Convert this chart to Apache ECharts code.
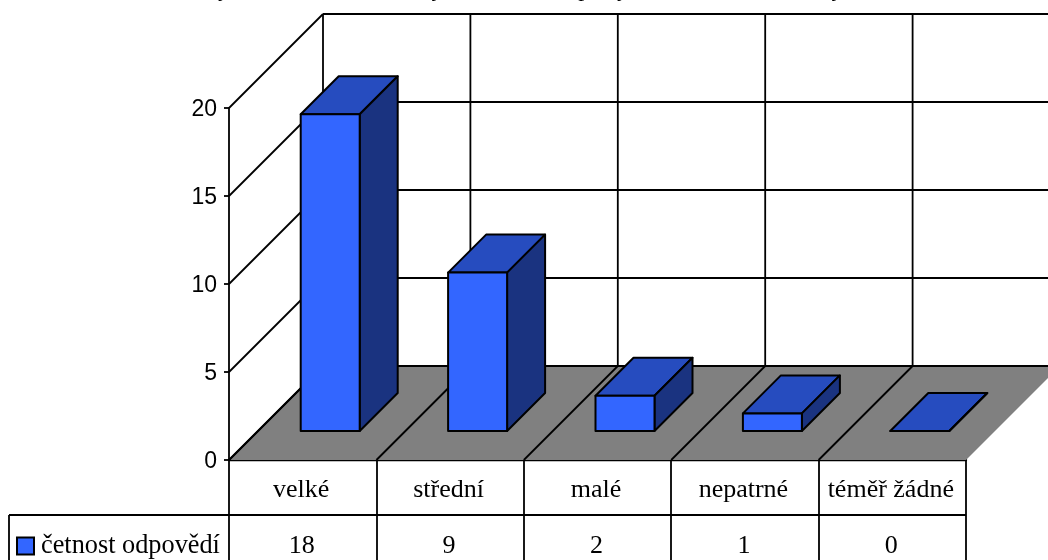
<!DOCTYPE html>
<html lang="cs">
<head>
<meta charset="utf-8">
<title>četnost odpovědí</title>
<style>
  html, body { margin: 0; padding: 0; background: #fff; }
  #chart { width: 1048px; height: 560px; }
</style>
<script src="https://cdn.jsdelivr.net/npm/echarts@6/dist/echarts.min.js"></script>
</head>
<body>
<div id="chart"></div>
<script>
const categories = ['velké', 'střední', 'malé', 'nepatrné', 'téměř žádné'];
const responses = [18, 9, 2, 1, 0];
const seriesName = 'četnost odpovědí';
const yTicks = [0, 5, 10, 15, 20];
const yMax = 20;

// Only the descenders of the heading fall inside the canvas.
const headingGlyphs = ['j', 'y', 'p', 'j', 'y'];
const headingGlyphX = [221, 434, 580, 620, 834];

// Oblique projection of the 3D box, in pixels.
const DEPTH = 94;        // floor depth
const BAR_DEPTH = 38;
const BAR_OFFSET_X = 27.5;
const BAR_OFFSET_Y = 29;
const BAR_WIDTH = 59;
const LINE = '#000';
const RULE_WIDTH = 1.8;
const COLORS = { front: '#3366ff', top: '#264cbf', side: '#1a3380', floor: '#808080' };
const SERIF = '"Liberation Serif", "Times New Roman", serif';
const SANS = '"Liberation Sans", Arial, sans-serif';
const TABLE_BOTTOM_ROW_Y = 515;
const TABLE_LEFT = 9;
const TABLE_BOTTOM = 562;

const seg = (x1, y1, x2, y2, lineWidth) => ({
  type: 'line',
  shape: { x1, y1, x2, y2 },
  style: { stroke: LINE, lineWidth: lineWidth || RULE_WIDTH }
});
const poly = (points, fill, stroke) => ({
  type: 'polygon',
  shape: { points },
  style: { fill, stroke: stroke === undefined ? LINE : stroke, lineWidth: 2, lineJoin: 'round' }
});

// Floor, back wall, side wall and the grid drawn on them.
function renderFrame(params, api) {
  const origin = api.coord([0, 0]);
  const band = api.size([1, 0])[0];
  const left = origin[0] - band / 2;
  const base = origin[1];
  const n = categories.length;
  const right = left + band * n;
  const children = [];

  children.push(poly([
    [left, base], [right, base], [right + DEPTH, base - DEPTH], [left + DEPTH, base - DEPTH]
  ], COLORS.floor, 'none'));

  for (const t of yTicks) {
    const y = api.coord([0, t])[1];
    children.push(seg(left, y, left + DEPTH, y - DEPTH));
    children.push(seg(left + DEPTH, y - DEPTH, right + DEPTH, y - DEPTH));
  }
  const wallTop = api.coord([0, yMax])[1] - DEPTH;
  for (let i = 0; i <= n; i++) {
    const x = left + band * i;
    children.push(seg(x + DEPTH, base - DEPTH, x + DEPTH, wallTop));
    if (i < n) children.push(seg(x, base, x + DEPTH, base - DEPTH));
  }
  // Data table rules below the axis.
  children.push(seg(TABLE_LEFT, TABLE_BOTTOM_ROW_Y, right, TABLE_BOTTOM_ROW_Y));
  children.push(seg(TABLE_LEFT, TABLE_BOTTOM_ROW_Y, TABLE_LEFT, TABLE_BOTTOM));
  return { type: 'group', children };
}

// One 3D column: front face, top face and right side.
function renderColumn(params, api) {
  const idx = api.value(0);
  const val = api.value(1);
  const foot = api.coord([idx, 0]);
  const head = api.coord([idx, val]);
  const x0 = foot[0] + BAR_OFFSET_X - BAR_WIDTH / 2;
  const x1 = x0 + BAR_WIDTH;
  const yb = foot[1] - BAR_OFFSET_Y;
  const yt = head[1] - BAR_OFFSET_Y;
  const d = BAR_DEPTH;
  return {
    type: 'group',
    children: [
      poly([[x0, yt], [x1, yt], [x1 + d, yt - d], [x0 + d, yt - d]], COLORS.top),
      poly([[x1, yb], [x1 + d, yb - d], [x1 + d, yt - d], [x1, yt]], COLORS.side),
      poly([[x0, yb], [x1, yb], [x1, yt], [x0, yt]], COLORS.front)
    ]
  };
}

// Value row of the data table.
function renderValueCell(params, api) {
  const foot = api.coord([api.value(0), 0]);
  return {
    type: 'text',
    style: {
      x: foot[0] - 1,
      y: 546,
      text: String(api.value(1)),
      fill: '#000',
      font: '26px ' + SERIF,
      align: 'center',
      verticalAlign: 'middle'
    }
  };
}

const chart = echarts.init(document.getElementById('chart'), null, { renderer: 'canvas' });
chart.setOption({
  animation: false,
  backgroundColor: '#fff',
  grid: { left: 229, top: 108, width: 737, height: 352, containLabel: false },
  legend: {
    left: 16,
    top: 533,
    data: [seriesName],
    icon: 'rect',
    itemWidth: 17,
    itemHeight: 17,
    itemGap: 0,
    padding: 0,
    selectedMode: false,
    itemStyle: { borderColor: LINE, borderWidth: 2 },
    textStyle: { fontFamily: SERIF, fontSize: 26.3, color: '#000', padding: [0, 0, 0, 2] }
  },
  xAxis: {
    type: 'category',
    data: categories,
    axisLine: { lineStyle: { color: LINE, width: 2.4 } },
    axisTick: { show: true, length: 102, lineStyle: { color: LINE, width: RULE_WIDTH } },
    axisLabel: { color: '#000', fontFamily: SERIF, fontSize: 26, margin: 17, interval: 0, padding: [0, 3, 0, 0] }
  },
  yAxis: {
    type: 'value',
    min: 0,
    max: yMax,
    interval: 5,
    splitLine: { show: false },
    axisLine: { show: true, lineStyle: { color: LINE, width: RULE_WIDTH } },
    axisTick: { show: true, length: 5, lineStyle: { color: LINE, width: RULE_WIDTH } },
    axisLabel: { color: '#000', fontFamily: SANS, fontSize: 23, margin: 12, verticalAlign: 'top', lineHeight: 3 }
  },
  graphic: headingGlyphs.map((ch, i) => ({
    type: 'text',
    x: headingGlyphX[i],
    y: -22,
    style: { text: ch, fill: '#000', font: 'italic 24px ' + SERIF }
  })),
  series: [
    {
      type: 'custom',
      name: 'frame',
      z: 1,
      clip: false,
      silent: true,
      renderItem: renderFrame,
      data: [[0, 0]],
      encode: { x: 0, y: 1 }
    },
    {
      type: 'custom',
      name: seriesName,
      z: 3,
      clip: false,
      silent: true,
      itemStyle: { color: COLORS.front, borderColor: LINE, borderWidth: 2 },
      renderItem: renderColumn,
      data: responses.map((v, i) => [i, v]),
      encode: { x: 0, y: 1 }
    },
    {
      type: 'custom',
      name: 'table',
      z: 4,
      clip: false,
      silent: true,
      renderItem: renderValueCell,
      data: responses.map((v, i) => [i, v]),
      encode: { x: 0, y: 1 }
    }
  ]
});
</script>
</body>
</html>
